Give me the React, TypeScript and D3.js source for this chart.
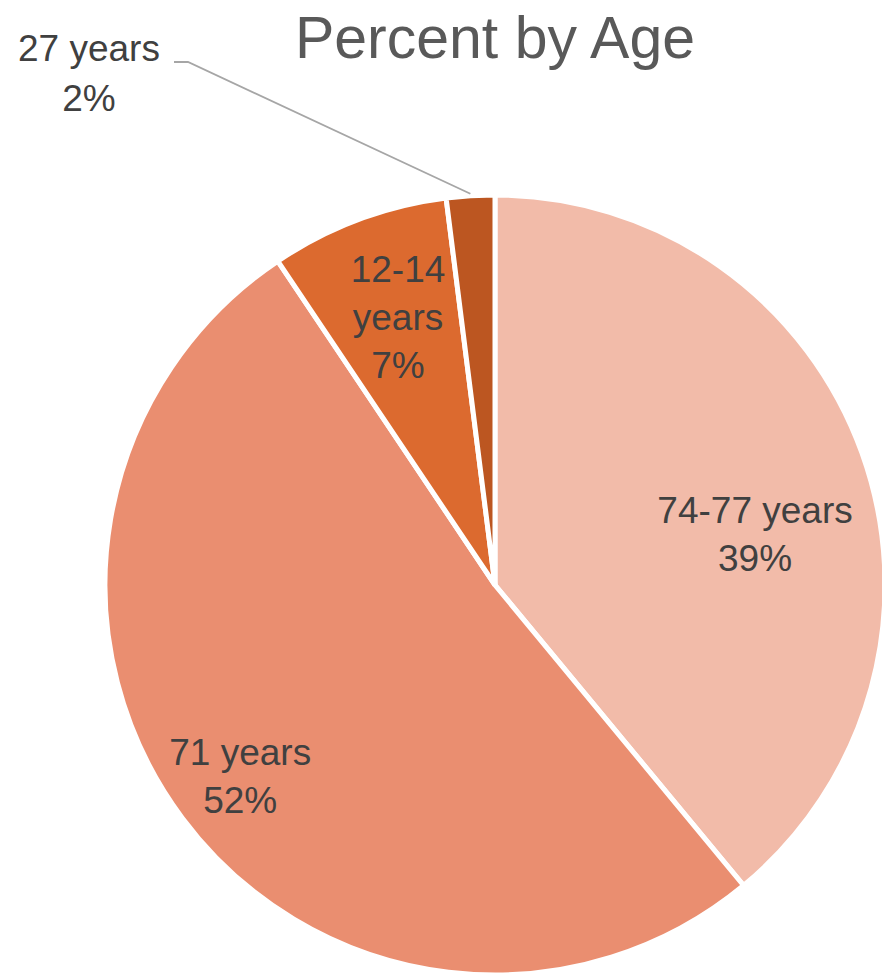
import React from "react";
import * as d3 from "d3";

const categories = ["74-77 years", "71 years", "12-14 years", "27 years"];
const values = [39.0, 51.6, 7.4, 2.0];
const percentLabels = ["39%", "52%", "7%", "2%"];
const colors = ["#F2BBA9", "#EA8E70", "#DC6A2F", "#BC5621"];
// label text lines per slice
const labelLines = [["74-77 years"], ["71 years"], ["12-14", "years"], ["27 years"]];

const W = 882;
const H = 976;
const cx = 495;
const cy = 585;
const R = 390;

export default function App() {
  const pie = d3.pie<number>().sort(null).value((d) => d)(values);
  const arc = d3.arc<d3.PieArcDatum<number>>().innerRadius(0).outerRadius(R);
  const lineH = 48;
  const font = "'Liberation Sans', Arial, sans-serif";

  // label anchor: [radius fraction, angle offset (rad)] per slice
  const labelPos = [
    { rf: 0.68, da: 0.148 },
    { rf: 0.815, da: 0.0 },
    { rf: 0.733, da: 0.012 },
  ];

  const labelArcs = pie.slice(0, 3).map((p, i) => {
    const a = (p.startAngle + p.endAngle) / 2 + labelPos[i].da;
    const r = R * labelPos[i].rf;
    return { x: cx + r * Math.sin(a), y: cy - r * Math.cos(a) };
  });

  // outside label for smallest slice with leader line
  const small = pie[3];
  const sa = (small.startAngle + small.endAngle) / 2;
  const edge = { x: cx + (R + 2) * Math.sin(sa), y: cy - (R + 2) * Math.cos(sa) };

  return (
    <svg
      width={W}
      height={H}
      style={{ position: "absolute", left: 0, top: 0, background: "#fff" }}
      fontFamily={font}
    >
      <text x={cx} y={58} textAnchor="middle" fontSize={59} fill="#595959">
        Percent by Age
      </text>
      <g transform={`translate(${cx},${cy})`}>
        {pie.map((p, i) => (
          <path key={categories[i]} d={arc(p) || ""} fill={colors[i]} stroke="#fff" strokeWidth={5} strokeLinejoin="miter" />
        ))}
      </g>
      {labelArcs.map((pos, i) => {
        const lines = [...labelLines[i], percentLabels[i]];
        const y0 = pos.y - ((lines.length - 1) * lineH) / 2 + 14;
        return (
          <text key={i} textAnchor="middle" fontSize={37} fill="#404040">
            {lines.map((l, j) => (
              <tspan key={j} x={pos.x} y={y0 + j * lineH}>
                {l}
              </tspan>
            ))}
          </text>
        );
      })}
      <polyline
        points={`174,62 188,62 ${edge.x},${edge.y}`}
        fill="none"
        stroke="#A6A6A6"
        strokeWidth={1.8}
      />
      <text textAnchor="middle" fontSize={37} fill="#404040">
        <tspan x={89} y={61}>{labelLines[3][0]}</tspan>
        <tspan x={89} y={111}>{percentLabels[3]}</tspan>
      </text>
    </svg>
  );
}
